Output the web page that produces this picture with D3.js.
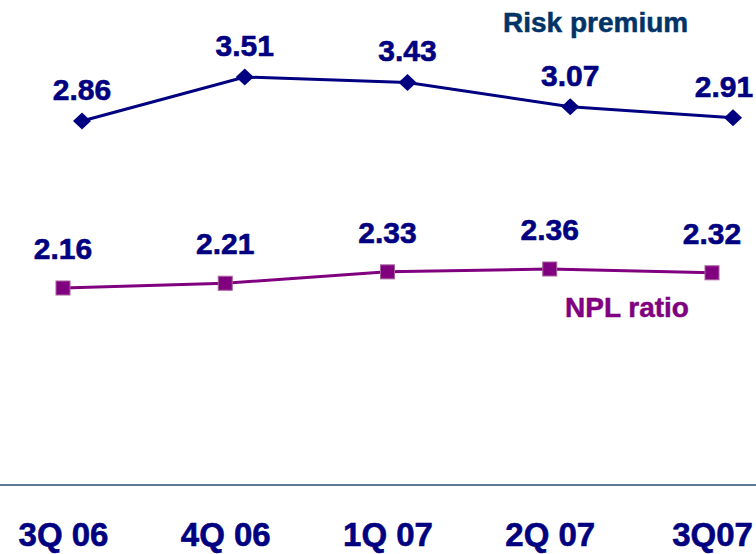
<!DOCTYPE html>
<html>
<head>
<meta charset="utf-8">
<script src="https://cdn.jsdelivr.net/npm/d3@7/dist/d3.min.js"></script>
<style>
  html, body { margin: 0; padding: 0; background: #fff; }
  svg { display: block; font-family: "Liberation Sans", Arial, sans-serif; font-weight: bold; }
</style>
</head>
<body>
<svg id="chart" width="756" height="554"></svg>
<script>
const quarters = ["3Q 06", "4Q 06", "1Q 07", "2Q 07", "3Q07"];
const riskPremium = [2.86, 3.51, 3.43, 3.07, 2.91];
const nplRatio = [2.16, 2.21, 2.33, 2.36, 2.32];

const W = 756, H = 554;
const svg = d3.select("#chart");

const navy = "#000080";
const riskColor = "#000080";
const nplColor = "#800080";

// Two independent panels: each series has its own horizontal and vertical scale
const xNpl = d3.scalePoint().domain(quarters).range([63, 712]);
const xRisk = d3.scalePoint().domain(quarters).range([82, 733]);
const yRisk = d3.scaleLinear().domain([2.5, 3.5]).range([145.4, 77.7]);
const yNpl = d3.scaleLinear().domain([2.0, 2.5]).range([303.2, 255.7]);

// Baseline axis with category labels
const axisY = 485;
svg.append("line")
  .attr("x1", 0).attr("x2", W)
  .attr("y1", axisY).attr("y2", axisY)
  .attr("stroke", "#5f7896").attr("stroke-width", 2);

const xAxis = d3.axisBottom(xNpl).tickSize(0).tickPadding(0);
const gx = svg.append("g").attr("transform", `translate(0,${axisY})`).call(xAxis);
gx.select(".domain").remove();
gx.selectAll("text")
  .attr("y", 61).attr("dy", null)
  .attr("fill", navy)
  .attr("stroke", navy).attr("stroke-width", 0.6)
  .style("font-size", "33px")
  .style("font-family", "'Liberation Sans', Arial, sans-serif")
  .style("font-weight", "bold");

// Keep text inside the right edge
function clampX(x, approxHalf) {
  return Math.min(x, W - approxHalf - 2);
}

// Risk premium series
const riskPts = quarters.map((q, i) => ({ q, v: riskPremium[i] }));
svg.append("path")
  .datum(riskPts)
  .attr("fill", "none")
  .attr("stroke", riskColor)
  .attr("stroke-width", 3)
  .attr("d", d3.line().x(d => xRisk(d.q)).y(d => yRisk(d.v)));

svg.selectAll(".risk-marker")
  .data(riskPts).enter().append("path")
  .attr("class", "risk-marker")
  .attr("transform", d => `translate(${xRisk(d.q)},${yRisk(d.v)})`)
  .attr("d", "M0,-8.5L9,0L0,8.5L-9,0Z")
  .attr("fill", riskColor);

svg.selectAll(".risk-label")
  .data(riskPts).enter().append("text")
  .attr("class", "risk-label")
  .attr("x", d => clampX(xRisk(d.q), 30))
  .attr("y", d => yRisk(d.v) - 21)
  .attr("text-anchor", "middle")
  .attr("fill", navy)
  .attr("stroke", navy).attr("stroke-width", 0.6)
  .style("font-size", "30px")
  .text(d => d.v.toFixed(2));

// NPL ratio series
const nplPts = quarters.map((q, i) => ({ q, v: nplRatio[i] }));
svg.append("path")
  .datum(nplPts)
  .attr("fill", "none")
  .attr("stroke", nplColor)
  .attr("stroke-width", 3)
  .attr("d", d3.line().x(d => xNpl(d.q)).y(d => yNpl(d.v)));

svg.selectAll(".npl-marker")
  .data(nplPts).enter().append("rect")
  .attr("class", "npl-marker")
  .attr("x", d => xNpl(d.q) - 7)
  .attr("y", d => yNpl(d.v) - 7)
  .attr("width", 14).attr("height", 14)
  .attr("fill", nplColor)
  .attr("stroke", "#a8609a")
  .attr("stroke-width", 1);

svg.selectAll(".npl-label")
  .data(nplPts).enter().append("text")
  .attr("class", "npl-label")
  .attr("x", d => xNpl(d.q))
  .attr("y", d => yNpl(d.v) - 29)
  .attr("text-anchor", "middle")
  .attr("fill", navy)
  .attr("stroke", navy).attr("stroke-width", 0.6)
  .style("font-size", "30px")
  .text(d => d.v.toFixed(2));

// Series names
svg.append("text")
  .attr("x", 503).attr("y", 32)
  .attr("fill", "#003366")
  .attr("stroke", "#003366").attr("stroke-width", 0.5)
  .style("font-size", "28px")
  .text("Risk premium");

svg.append("text")
  .attr("x", 565).attr("y", 317)
  .attr("fill", nplColor)
  .attr("stroke", nplColor).attr("stroke-width", 0.5)
  .style("font-size", "28px")
  .text("NPL ratio");
</script>
</body>
</html>
